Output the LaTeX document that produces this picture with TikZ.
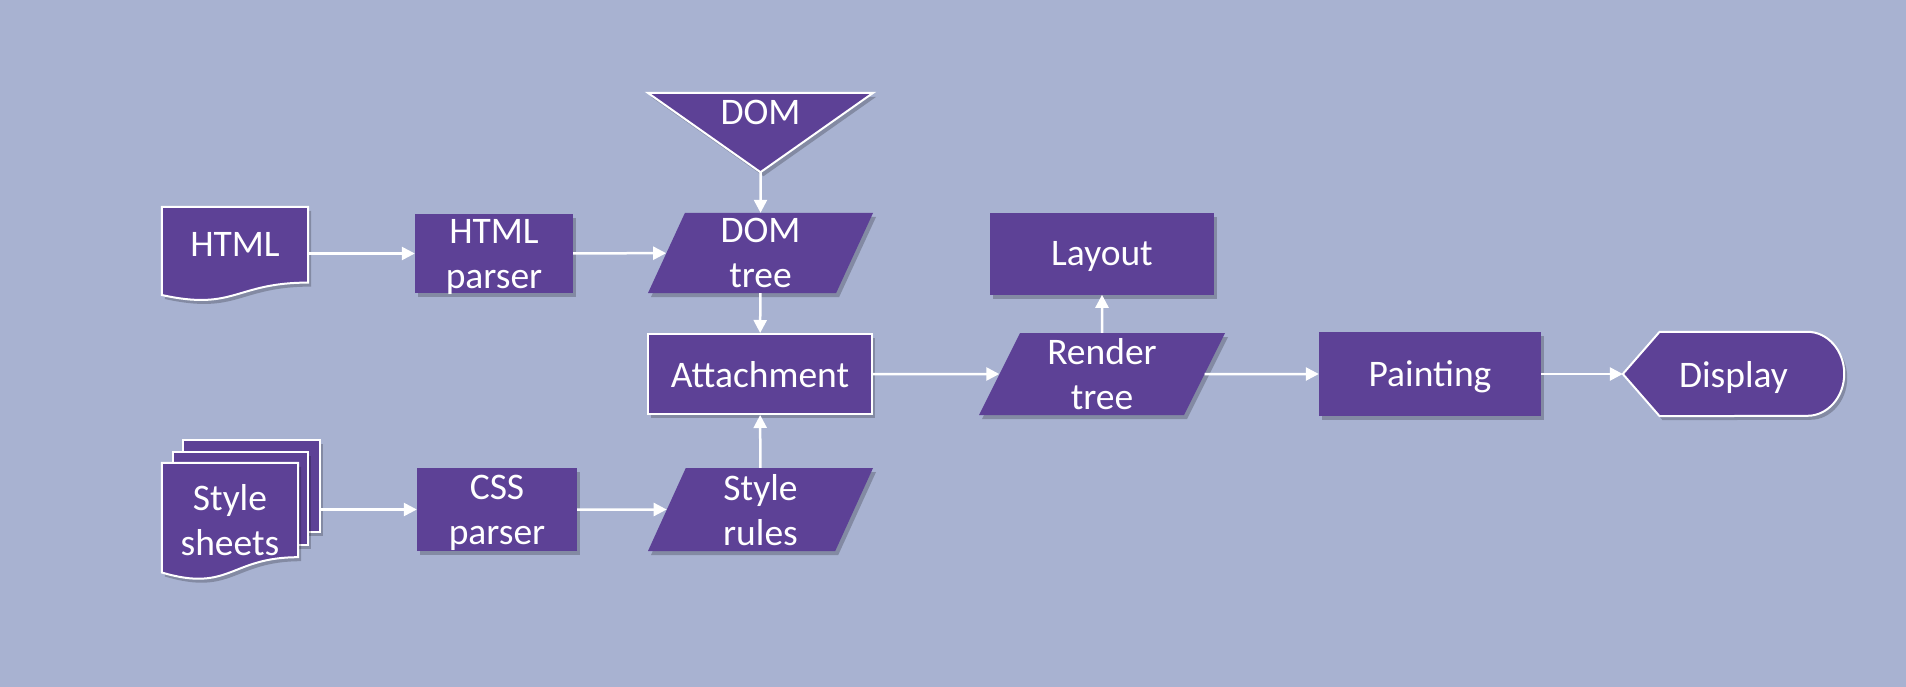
\documentclass[tikz,border=0pt]{standalone}
\usepackage{fontspec}
\setmainfont{Carlito}
\usepackage{xcolor}
\usetikzlibrary{shapes.geometric, arrows.meta, positioning, calc, backgrounds, shadows}
\pgfdeclarelayer{backdrop}
\pgfsetlayers{backdrop,background,main}

\definecolor{pagebg}{RGB}{168,178,209}
\definecolor{stage}{RGB}{93,65,150}

\begin{document}
\begin{tikzpicture}[
    x=1pt, y=-1pt,
    every node/.style={font=\fontsize{37.5}{45}\selectfont, text=white,
                       align=center, inner sep=0pt, text depth=0pt},
    lift/.style={drop shadow={shadow xshift=3pt, shadow yshift=-4pt,
                 opacity=0.22, fill=black}},
    block/.style={rectangle, fill=stage, lift},
    framed/.style={draw=white, line width=2pt},
    data/.style 2 args={trapezium, trapezium left angle=#1,
                 trapezium right angle=#2, trapezium stretches body,
                 fill=stage, lift},
    textarea/.style={rectangle},
    outline/.style={fill=stage, draw=white, line width=2pt, lift},
    arrow/.style={-{Triangle[length=13pt, width=13pt]}, white, line width=2.5pt},
]

% ── Page ──
\begin{pgfonlayer}{backdrop}
  \fill[pagebg] (0,0) rectangle (1906,687);
\end{pgfonlayer}

% ── HTML branch ──
\node[textarea, minimum width=146pt, minimum height=75.4pt] (html) at (235,244.7) {HTML};
\node[block, minimum width=158pt, minimum height=79pt] (htmlparser) at (494,253.5) {HTML\\parser};
\node[textarea, minimum width=225pt, minimum height=39.5pt] (dom) at (760.5,112.75) {DOM};
\node[data={62}{118}, minimum width=225pt, minimum height=80pt] (domtree) at (760.5,253) {DOM\\tree};

% ── CSS branch ──
\node[textarea, minimum width=136pt, minimum height=114pt] (sheets) at (230,520) {Style\\sheets};
\node[block, minimum width=160pt, minimum height=83pt] (cssparser) at (497,509.5) {CSS\\parser};
\node[data={62}{118}, minimum width=225pt, minimum height=83pt] (stylerules) at (760.5,509.5) {Style\\rules};

% ── Rendering ──
\node[block, framed, minimum width=224pt, minimum height=80pt] (attach) at (760,374) {Attachment};
\node[data={60}{120}, minimum width=246pt, minimum height=82pt] (render) at (1102,374) {Render\\tree};
\node[block, minimum width=224pt, minimum height=82pt, above=38pt of render] (layout) {Layout};
\node[block, minimum width=222pt, minimum height=84pt] (painting) at (1430,374) {Painting};
\node[textarea, minimum width=221pt, minimum height=84pt] (display) at (1733.5,374) {Display};

% ── Outlines of the drawn shapes ──
\begin{pgfonlayer}{background}
  \path[outline] (html.north west) -- (html.north east) -- (html.south east)
    .. controls (html.south) and ($(html.south)+(0,28.6)$) .. ($(html.south west)+(0,12.4)$) -- cycle;
  \path[outline] ($(sheets.north west)+(21,-23)$) rectangle ($(sheets.north west)+(158,69)$);
  \path[outline] ($(sheets.north west)+(11,-11)$) rectangle ($(sheets.north west)+(146,82)$);
  \path[outline] (sheets.north west) -- (sheets.north east) -- ($(sheets.south east)+(0,-20)$)
    .. controls ($(sheets.south)+(0,-20)$) and ($(sheets.south)+(0,15.5)$) .. ($(sheets.south west)+(0,-4.7)$) -- cycle;
  \path[outline] (dom.north west) -- (dom.north east) -- ($(dom.south)+(0,39.5)$) -- cycle;
  \path[outline] (display.west) -- ($(display.north west)+(36.8,0)$) -- ($(display.north east)+(-36.8,0)$)
    arc[start angle=90, end angle=-90, x radius=36.8pt, y radius=42pt]
    -- ($(display.south west)+(36.8,0)$) -- cycle;
\end{pgfonlayer}
\coordinate (dom tip) at ($(dom.south)+(0,39.5)$);

% ── Arrows ──
\draw[arrow] (html.east |- htmlparser.west) -- (htmlparser.west);
\draw[arrow] (htmlparser) -- (domtree);
\draw[arrow] (dom tip) -- (domtree);
\draw[arrow] (domtree) -- (attach);
\draw[arrow, shorten <=22pt] (sheets.east |- cssparser.west) -- (cssparser.west);
\draw[arrow] (cssparser) -- (stylerules);
\draw[arrow] (stylerules) -- (attach);
\draw[arrow] (attach) -- (render);
\draw[arrow] (render) -- (layout);
\draw[arrow] (render) -- (painting);
\draw[arrow] (painting) -- (display);

\end{tikzpicture}
\end{document}
